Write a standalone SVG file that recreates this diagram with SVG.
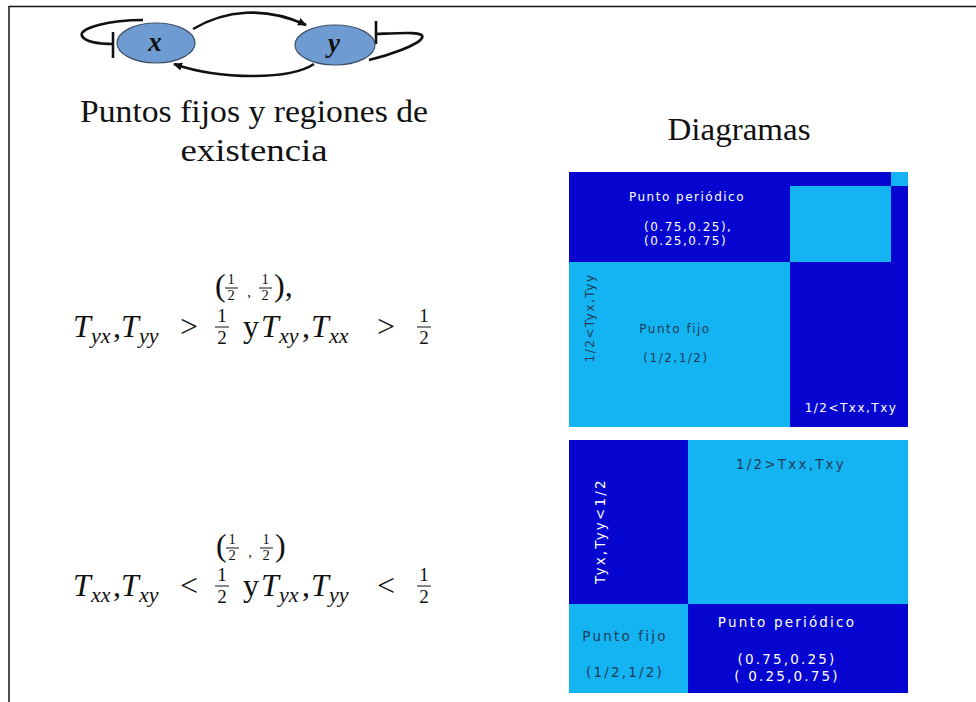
<svg xmlns="http://www.w3.org/2000/svg" width="976" height="702" viewBox="0 0 976 702">
<defs>
<style>
.border{stroke:#111;stroke-width:1.5;fill:none}
.node{fill:#6F9BD3;stroke:#3c4f66;stroke-width:1.2}
.nl{font-family:"Liberation Serif",serif;font-style:italic;font-weight:bold;font-size:27px;fill:#111;text-anchor:middle}
.edge{fill:none;stroke:#111;stroke-width:2.6}
.title{font-family:"Liberation Serif",serif;font-size:31px;fill:#111;text-anchor:middle}
.m{font-family:"Liberation Serif",serif;font-size:32px;fill:#111}
.mi{font-family:"Liberation Serif",serif;font-size:32px;font-style:italic;fill:#111}
.sb{font-family:"Liberation Serif",serif;font-size:22px;font-style:italic;fill:#111}
.fr{font-family:"Liberation Serif",serif;font-size:19px;fill:#111;text-anchor:middle}
.fs{font-family:"Liberation Serif",serif;font-size:14.5px;fill:#111;text-anchor:middle}
.bar{stroke:#111;stroke-width:1}
.dk{fill:#0606D0}
.lt{fill:#14B4F2}
.tw{font-family:"DejaVu Sans",sans-serif;font-size:12px;fill:#fff;letter-spacing:1.5px}
.td{font-family:"DejaVu Sans",sans-serif;font-size:12px;fill:#1f3b58;letter-spacing:1.5px}
.b{font-size:13.5px;letter-spacing:2.2px}
</style>
<marker id="ah" markerWidth="10" markerHeight="10" refX="8" refY="5" orient="auto" markerUnits="userSpaceOnUse">
<path d="M0,1 L9,5 L0,9 Z" fill="#111"/>
</marker>
</defs>
<rect width="976" height="702" fill="#fff"/>
<path class="border" d="M9,702 V6.5 H976"/>

<g id="connectors">
<path class="edge" d="M193,29 C225,10 265,6 306,25" marker-end="url(#ah)"/>
<path class="edge" d="M314,64 C290,80 220,80 174,64" marker-end="url(#ah)"/>
<path class="edge" d="M143,20 C110,20 78,28 82,36 C86,43 104,44 114,44"/>
<path class="edge" d="M113,32 V58"/>
<path class="edge" d="M376,34 C400,33 426,31 422,38 C418,45 390,55 369,60"/>
<path class="edge" d="M376,21 V44"/>
</g>

<g id="node-x">
<ellipse class="node" cx="156" cy="43" rx="39" ry="20"/>
<text class="nl" x="155" y="51">x</text>
</g>
<g id="node-y">
<ellipse class="node" cx="335" cy="45" rx="40" ry="20"/>
<text class="nl" x="334" y="52">y</text>
</g>

<g id="titles">
<text class="title" x="254" y="122" textLength="348" lengthAdjust="spacingAndGlyphs">Puntos fijos y regiones de</text>
<text class="title" x="254" y="161" textLength="147" lengthAdjust="spacingAndGlyphs">existencia</text>
<text class="title" x="739" y="140" textLength="143" lengthAdjust="spacingAndGlyphs">Diagramas</text>
</g>

<g id="cond1">
<text class="m" x="215" y="296" font-size="29">(</text>
<text class="fs" x="231" y="284">1</text>
<line class="bar" x1="225" y1="288" x2="238" y2="288"/>
<text class="fs" x="231" y="300">2</text>
<text class="fs" x="249" y="297">,</text>
<text class="fs" x="265" y="284">1</text>
<line class="bar" x1="259" y1="288" x2="272" y2="288"/>
<text class="fs" x="265" y="300">2</text>
<text class="m" x="274" y="296" font-size="29">),</text>

<text class="mi" x="73" y="337">T</text>
<text class="sb" x="91" y="343">yx</text>
<text class="m" x="113" y="337">,</text>
<text class="mi" x="121" y="337">T</text>
<text class="sb" x="139" y="343">yy</text>
<text class="m" x="180" y="337">&gt;</text>
<text class="fr" x="222" y="322">1</text>
<line class="bar" x1="215" y1="327" x2="229" y2="327"/>
<text class="fr" x="222" y="344">2</text>
<text class="m" x="243" y="337">y</text>
<text class="mi" x="261" y="337">T</text>
<text class="sb" x="279" y="343">xy</text>
<text class="m" x="302" y="337">,</text>
<text class="mi" x="311" y="337">T</text>
<text class="sb" x="329" y="343">xx</text>
<text class="m" x="377" y="337">&gt;</text>
<text class="fr" x="424" y="322">1</text>
<line class="bar" x1="417" y1="327" x2="431" y2="327"/>
<text class="fr" x="424" y="344">2</text>
</g>

<g id="cond2">
<text class="m" x="216" y="556" font-size="29">(</text>
<text class="fs" x="232" y="544">1</text>
<line class="bar" x1="226" y1="548" x2="239" y2="548"/>
<text class="fs" x="232" y="560">2</text>
<text class="fs" x="250" y="557">,</text>
<text class="fs" x="266" y="544">1</text>
<line class="bar" x1="260" y1="548" x2="273" y2="548"/>
<text class="fs" x="266" y="560">2</text>
<text class="m" x="275" y="556" font-size="29">)</text>

<text class="mi" x="73" y="596">T</text>
<text class="sb" x="91" y="602">xx</text>
<text class="m" x="113" y="596">,</text>
<text class="mi" x="121" y="596">T</text>
<text class="sb" x="139" y="602">xy</text>
<text class="m" x="180" y="596">&lt;</text>
<text class="fr" x="222" y="581">1</text>
<line class="bar" x1="215" y1="586" x2="229" y2="586"/>
<text class="fr" x="222" y="603">2</text>
<text class="m" x="243" y="596">y</text>
<text class="mi" x="261" y="596">T</text>
<text class="sb" x="279" y="602">yx</text>
<text class="m" x="302" y="596">,</text>
<text class="mi" x="311" y="596">T</text>
<text class="sb" x="329" y="602">yy</text>
<text class="m" x="377" y="596">&lt;</text>
<text class="fr" x="424" y="581">1</text>
<line class="bar" x1="417" y1="586" x2="431" y2="586"/>
<text class="fr" x="424" y="603">2</text>
</g>

<g id="diagram1">
<rect class="dk" x="569" y="172" width="339" height="255"/>
<rect class="lt" x="790" y="186" width="101" height="76"/>
<rect class="lt" x="891" y="172" width="17" height="14"/>
<rect class="lt" x="569" y="262" width="221" height="165"/>
<text class="tw" x="687" y="201" text-anchor="middle">Punto periódico</text>
<text class="tw" x="644" y="231" letter-spacing="2">(0.75,0.25),</text>
<text class="tw" x="644" y="245" letter-spacing="2">(0.25,0.75)</text>
<text class="td" transform="translate(594,318) rotate(-90)" text-anchor="middle" letter-spacing="2">1/2&lt;Tyx,Tyy</text>
<text class="td" x="675" y="333" text-anchor="middle" letter-spacing="1.8">Punto fijo</text>
<text class="td" x="676" y="362" text-anchor="middle" letter-spacing="2">(1/2,1/2)</text>
<text class="tw" x="851" y="412" text-anchor="middle">1/2&lt;Txx,Txy</text>
</g>

<g id="diagram2">
<rect class="lt" x="569" y="440" width="339" height="253"/>
<rect class="dk" x="569" y="440" width="119" height="164"/>
<rect class="dk" x="688" y="604" width="220" height="89"/>
<text class="td b" x="791" y="469" text-anchor="middle">1/2&gt;Txx,Txy</text>
<text class="tw b" transform="translate(605,531) rotate(-90)" text-anchor="middle" letter-spacing="3">Tyx,Tyy&lt;1/2</text>
<text class="td b" x="625" y="641" text-anchor="middle">Punto fijo</text>
<text class="td b" x="625" y="677" text-anchor="middle" letter-spacing="3">(1/2,1/2)</text>
<text class="tw b" x="787" y="627" text-anchor="middle">Punto periódico</text>
<text class="tw b" x="787" y="664" text-anchor="middle">(0.75,0.25)</text>
<text class="tw b" x="787" y="681" text-anchor="middle">( 0.25,0.75)</text>
</g>
</svg>
